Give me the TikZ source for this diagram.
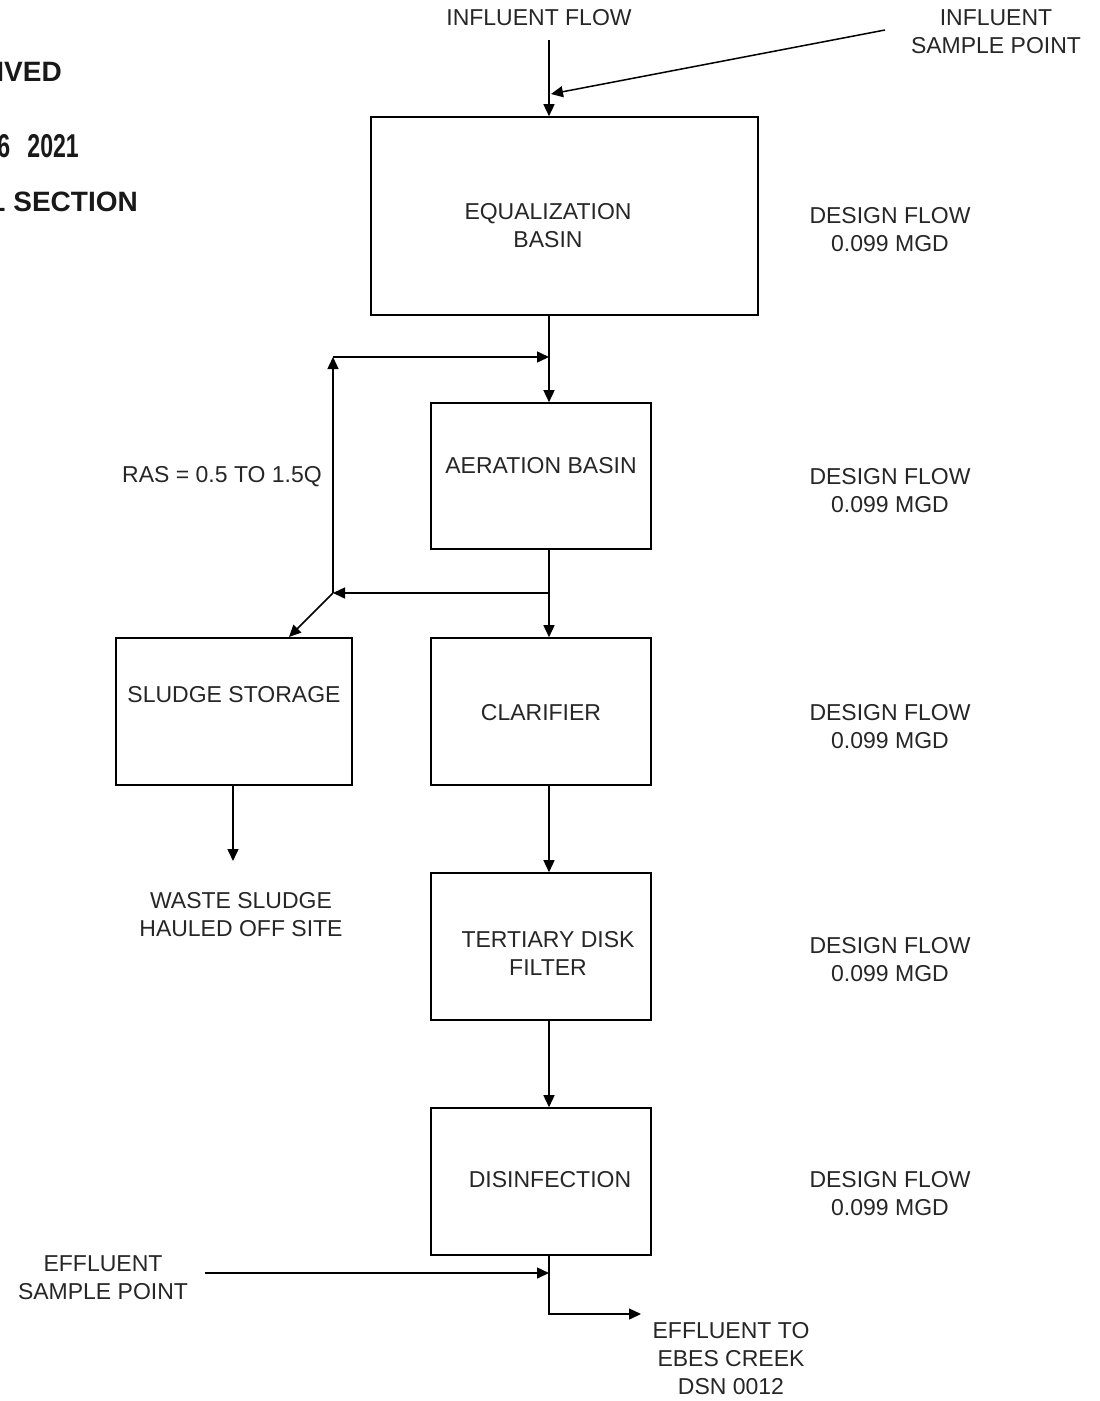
\documentclass[tikz,border=0pt]{standalone}
\usepackage{fontspec}
\setmainfont{Liberation Sans}
\usetikzlibrary{arrows.meta}
\begin{document}
\begin{tikzpicture}[x=1pt,y=-1pt,
  lbl/.style={font=\fontsize{23}{28}\selectfont, text=black!85, align=center, inner sep=0pt},
  stamp/.style={font=\fontsize{28}{32}\selectfont\bfseries, text=black!90, inner sep=0pt},
  conn/.style={line width=1.5pt, -{Triangle[length=12pt,width=11pt]}},
  plain/.style={line width=1.5pt}]
\useasboundingbox (0,0) rectangle (1100,1401);
% stamp fragments
\node[stamp, anchor=east] (s1) at (62,72) {IVED};
\node[stamp, anchor=east, xscale=0.7, transform shape, font=\fontsize{33}{34}\selectfont\bfseries] (s2) at (79,146) {6\hspace{0.75em}2021};
\node[stamp, anchor=east] (s3) at (138,202) {L SECTION};
% boxes
\node[draw, line width=1.6pt, minimum width=387pt, minimum height=198pt] (eq) at (564.5,216) {};
\node[draw, line width=1.6pt, minimum width=220pt, minimum height=146pt] (aer) at (541,476) {};
\node[draw, line width=1.6pt, minimum width=236pt, minimum height=147pt] (sl) at (234,711.5) {};
\node[draw, line width=1.6pt, minimum width=220pt, minimum height=147pt] (cl) at (541,711.5) {};
\node[draw, line width=1.6pt, minimum width=220pt, minimum height=147pt] (ter) at (541,946.5) {};
\node[draw, line width=1.6pt, minimum width=220pt, minimum height=147pt] (dis) at (541,1181.5) {};
% box texts
\node[lbl] (eqT) at (548,226) {EQUALIZATION\\BASIN};
\node[lbl] (aerT) at (541,466) {AERATION BASIN};
\node[lbl] (slT) at (234,695) {SLUDGE STORAGE};
\node[lbl] (clT) at (541,713) {CLARIFIER};
\node[lbl] (terT) at (548,953) {TERTIARY DISK\\FILTER};
\node[lbl] (disT) at (550,1180) {DISINFECTION};
% side labels
\node[lbl] (d1) at (890,230) {DESIGN FLOW\\0.099 MGD};
\node[lbl] (d2) at (890,491) {DESIGN FLOW\\0.099 MGD};
\node[lbl] (d3) at (890,727) {DESIGN FLOW\\0.099 MGD};
\node[lbl] (d4) at (890,960) {DESIGN FLOW\\0.099 MGD};
\node[lbl] (d5) at (890,1194) {DESIGN FLOW\\0.099 MGD};
\node[lbl] (inf) at (539,18) {INFLUENT FLOW};
\node[lbl] (infs) at (996,32) {INFLUENT\\SAMPLE POINT};
\node[lbl] (ras) at (222,477) {RAS = 0.5 TO 1.5Q};
\node[lbl] (waste) at (241,915) {WASTE SLUDGE\\HAULED OFF SITE};
\node[lbl] (effs) at (103,1278) {EFFLUENT\\SAMPLE POINT};
\node[lbl] (eff) at (731,1359) {EFFLUENT TO\\EBES CREEK\\DSN 0012};
% coordinates
\coordinate (m) at (549,0);
\coordinate (inTop) at (549,40);
\coordinate (sStart) at (885,30);
\coordinate (sEnd) at (551,94);
\coordinate (j1) at (549,357);
\coordinate (j2) at (549,593);
\coordinate (r1) at (333,357);
\coordinate (r2) at (333,593);
\coordinate (slIn) at (289,637);
\coordinate (wEnd) at (233,861);
\coordinate (es) at (205,1273);
\coordinate (ej) at (549,1273);
\coordinate (eb) at (549,1314);
\coordinate (eEnd) at (641,1314);
% connectors
\draw[conn] (inTop) -- (eq.north -| m);
\draw[conn] (sStart) -- (sEnd);
\draw[conn] (eq.south -| m) -- (aer.north -| m);
\draw[conn] (r1) -- (j1);
\draw[conn] (r2) -- (r1);
\draw[plain] (aer.south -| m) -- (j2);
\draw[conn] (j2) -- (r2);
\draw[conn] (r2) -- (slIn);
\draw[conn] (j2) -- (cl.north -| m);
\draw[conn] (sl.south -| wEnd) -- (wEnd);
\draw[conn] (cl.south -| m) -- (ter.north -| m);
\draw[conn] (ter.south -| m) -- (dis.north -| m);
\draw[conn] (es) -- (ej);
\draw[conn] (dis.south -| m) -- (eb) -- (eEnd);
\end{tikzpicture}
\end{document}
